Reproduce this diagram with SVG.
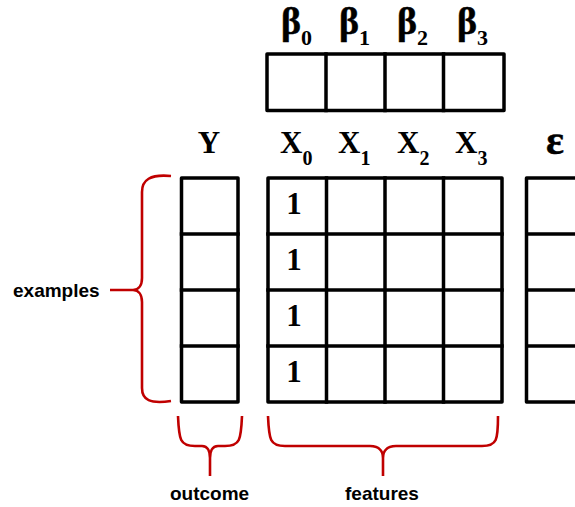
<svg xmlns="http://www.w3.org/2000/svg" width="575" height="507" viewBox="0 0 575 507">
<style>
.grid{fill:none;stroke:#000;stroke-width:3.5;stroke-linejoin:round;stroke-linecap:square}
.brace{fill:none;stroke:#c00000;stroke-width:2.6;stroke-linecap:butt}
.sym{font-family:"Liberation Serif","Times New Roman",serif;font-weight:bold;font-size:31px;fill:#000}
.sub{font-size:20px}
.big{font-size:38px;stroke:#000;stroke-width:0.5px}
.bsub{font-size:22px;stroke-width:0}
.eps{font-size:42px;stroke:#000;stroke-width:0.5px}
.lab{font-family:"Liberation Sans",Arial,sans-serif;font-weight:bold;font-size:19px;fill:#000}
</style>
<rect width="575" height="507" fill="#fff"/>
<g id="beta">
<rect class="grid" x="267" y="54" width="237" height="56.5"/>
<path class="grid" d="M326,54V110.5M385,54V110.5M443.5,54V110.5"/>
<text class="sym big" x="281" y="34">β<tspan class="bsub" dy="11">0</tspan></text>
<text class="sym big" x="339" y="34">β<tspan class="bsub" dy="11">1</tspan></text>
<text class="sym big" x="397" y="34">β<tspan class="bsub" dy="11">2</tspan></text>
<text class="sym big" x="457" y="34">β<tspan class="bsub" dy="11">3</tspan></text>
</g>
<g id="Y">
<text class="sym" x="209" y="153" text-anchor="middle">Y</text>
<rect class="grid" x="181.5" y="178" width="56.5" height="224"/>
<path class="grid" d="M181.5,234H238M181.5,290H238M181.5,346H238"/>
</g>
<g id="X">
<text class="sym" x="280" y="153">X<tspan class="sub" dy="12">0</tspan></text>
<text class="sym" x="338" y="153">X<tspan class="sub" dy="12">1</tspan></text>
<text class="sym" x="397" y="153">X<tspan class="sub" dy="12">2</tspan></text>
<text class="sym" x="455" y="153">X<tspan class="sub" dy="12">3</tspan></text>
<rect class="grid" x="268" y="178" width="234" height="224"/>
<path class="grid" d="M268,234H502M268,290H502M268,346H502M326.5,178V402M385,178V402M443.5,178V402"/>
<text class="sym" x="294" y="214" text-anchor="middle">1</text>
<text class="sym" x="294" y="270" text-anchor="middle">1</text>
<text class="sym" x="294" y="326" text-anchor="middle">1</text>
<text class="sym" x="294" y="382" text-anchor="middle">1</text>
</g>
<g id="epsilon">
<text class="sym eps" x="555" y="154" text-anchor="middle">ε</text>
<path class="grid" d="M590,178H526.5V402H590M526.5,234H590M526.5,290H590M526.5,346H590"/>
</g>
<g id="connectors">
<path class="brace" d="M171,176C150,174 142,180 142,192L142,278C142,286 138,290 133,290C138,290 142,294 142,302L142,388C142,400 150,404 171,401M110,290H134"/>
<path class="brace" d="M178,416C179,440 180,446 195,446L202,446C208,446 210,452 210,458L210,476M210,458C210,452 212,446 218,446L225,446C240,446 241,440 242,416"/>
<path class="brace" d="M268,416C269,440 270,446 285,446L370,446C380,446 383,452 383,458L383,476M383,458C383,452 386,446 396,446L482,446C497,446 498,440 498,416"/>
</g>
<g id="labels">
<text class="lab" x="13" y="297">examples</text>
<text class="lab" x="170" y="500">outcome</text>
<text class="lab" x="345" y="500">features</text>
</g>
</svg>
